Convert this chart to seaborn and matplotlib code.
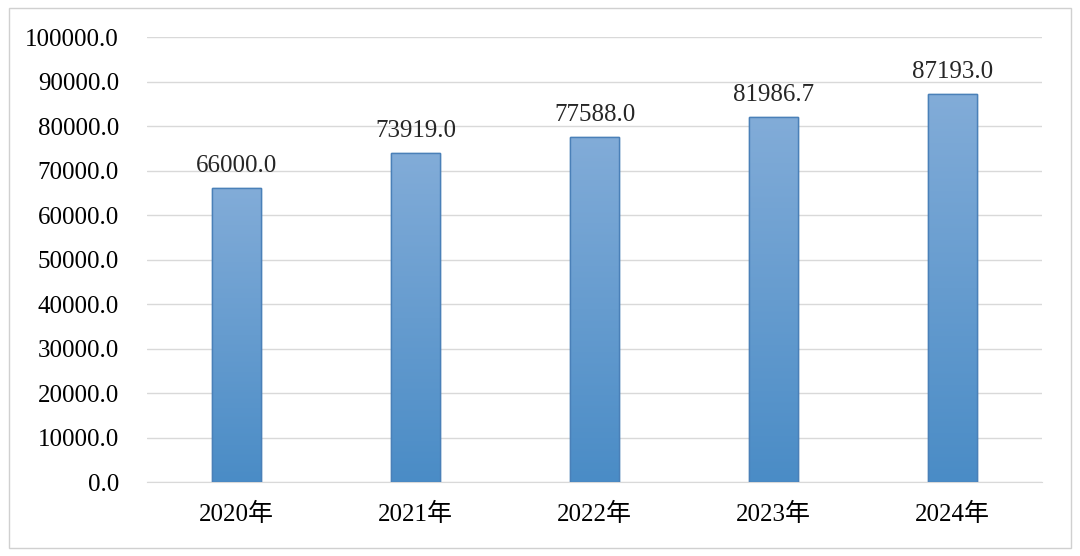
import matplotlib
matplotlib.use('Agg')
import matplotlib.pyplot as plt
import numpy as np
import pandas as pd
import seaborn as sns
from matplotlib.colors import LinearSegmentedColormap
from matplotlib.patches import Rectangle

# 数据
years = ['2020年', '2021年', '2022年', '2023年', '2024年']
values = [66000.0, 73919.0, 77588.0, 81986.7, 87193.0]
y_ticks = [0, 10000, 20000, 30000, 40000, 50000, 60000, 70000, 80000, 90000, 100000]

sns.set_style("white")
plt.rcParams['font.family'] = ['Liberation Serif', 'Noto Sans CJK SC', 'DejaVu Sans']

df = pd.DataFrame({'year': years, 'value': values})

fig = plt.figure(figsize=(10.8, 5.56), dpi=100)
ax = fig.add_axes([0.136, 0.133, 0.829, 0.8])

sns.barplot(data=df, x='year', y='value', color='#5b93c9', width=0.27,
            edgecolor='#4a80b8', linewidth=1.0, ax=ax, zorder=3)

# 渐变填充
cmap = LinearSegmentedColormap.from_list('bar', ['#4a8cc6', '#82acd8'])
grad = np.linspace(0, 1, 256).reshape(-1, 1)
for p in ax.patches:
    x0, y0 = p.get_x(), p.get_y()
    w, h = p.get_width(), p.get_height()
    im = ax.imshow(grad, cmap=cmap, aspect='auto', origin='lower',
                   extent=[x0, x0 + w, y0, y0 + h], zorder=3.5)
    im.set_clip_path(p)
    ax.add_patch(Rectangle((x0, y0), w, h, fill=False, edgecolor='#4a80b8',
                           linewidth=1.0, zorder=4))

ax.set_xlim(-0.5, 4.5)
ax.set_ylim(0, 100000)
ax.set_yticks(y_ticks)
ax.set_yticklabels([f'{v:.1f}' for v in y_ticks], fontsize=18)
ax.set_xticks(range(len(years)))
ax.set_xticklabels(years, fontsize=18)
ax.tick_params(axis='both', length=0, colors='black')
ax.tick_params(axis='y', pad=20)
ax.tick_params(axis='x', pad=15)
ax.set_xlabel('')
ax.set_ylabel('')

ax.grid(axis='y', color='#d9d9d9', linewidth=1.0, zorder=0)
ax.set_axisbelow(True)
for s in ['top', 'right', 'left']:
    ax.spines[s].set_visible(False)
ax.spines['bottom'].set_color('#d9d9d9')

for i, v in enumerate(values):
    ax.annotate(f'{v:.1f}', xy=(i, v), xytext=(0, 8), textcoords='offset points',
                ha='center', va='bottom', fontsize=18)

# 外框
fig.patches.append(Rectangle((0.008, 0.014), 0.984, 0.972, transform=fig.transFigure,
                             fill=False, edgecolor='#d0d0d0', linewidth=1.0))

fig.savefig('out.png', dpi=100)
